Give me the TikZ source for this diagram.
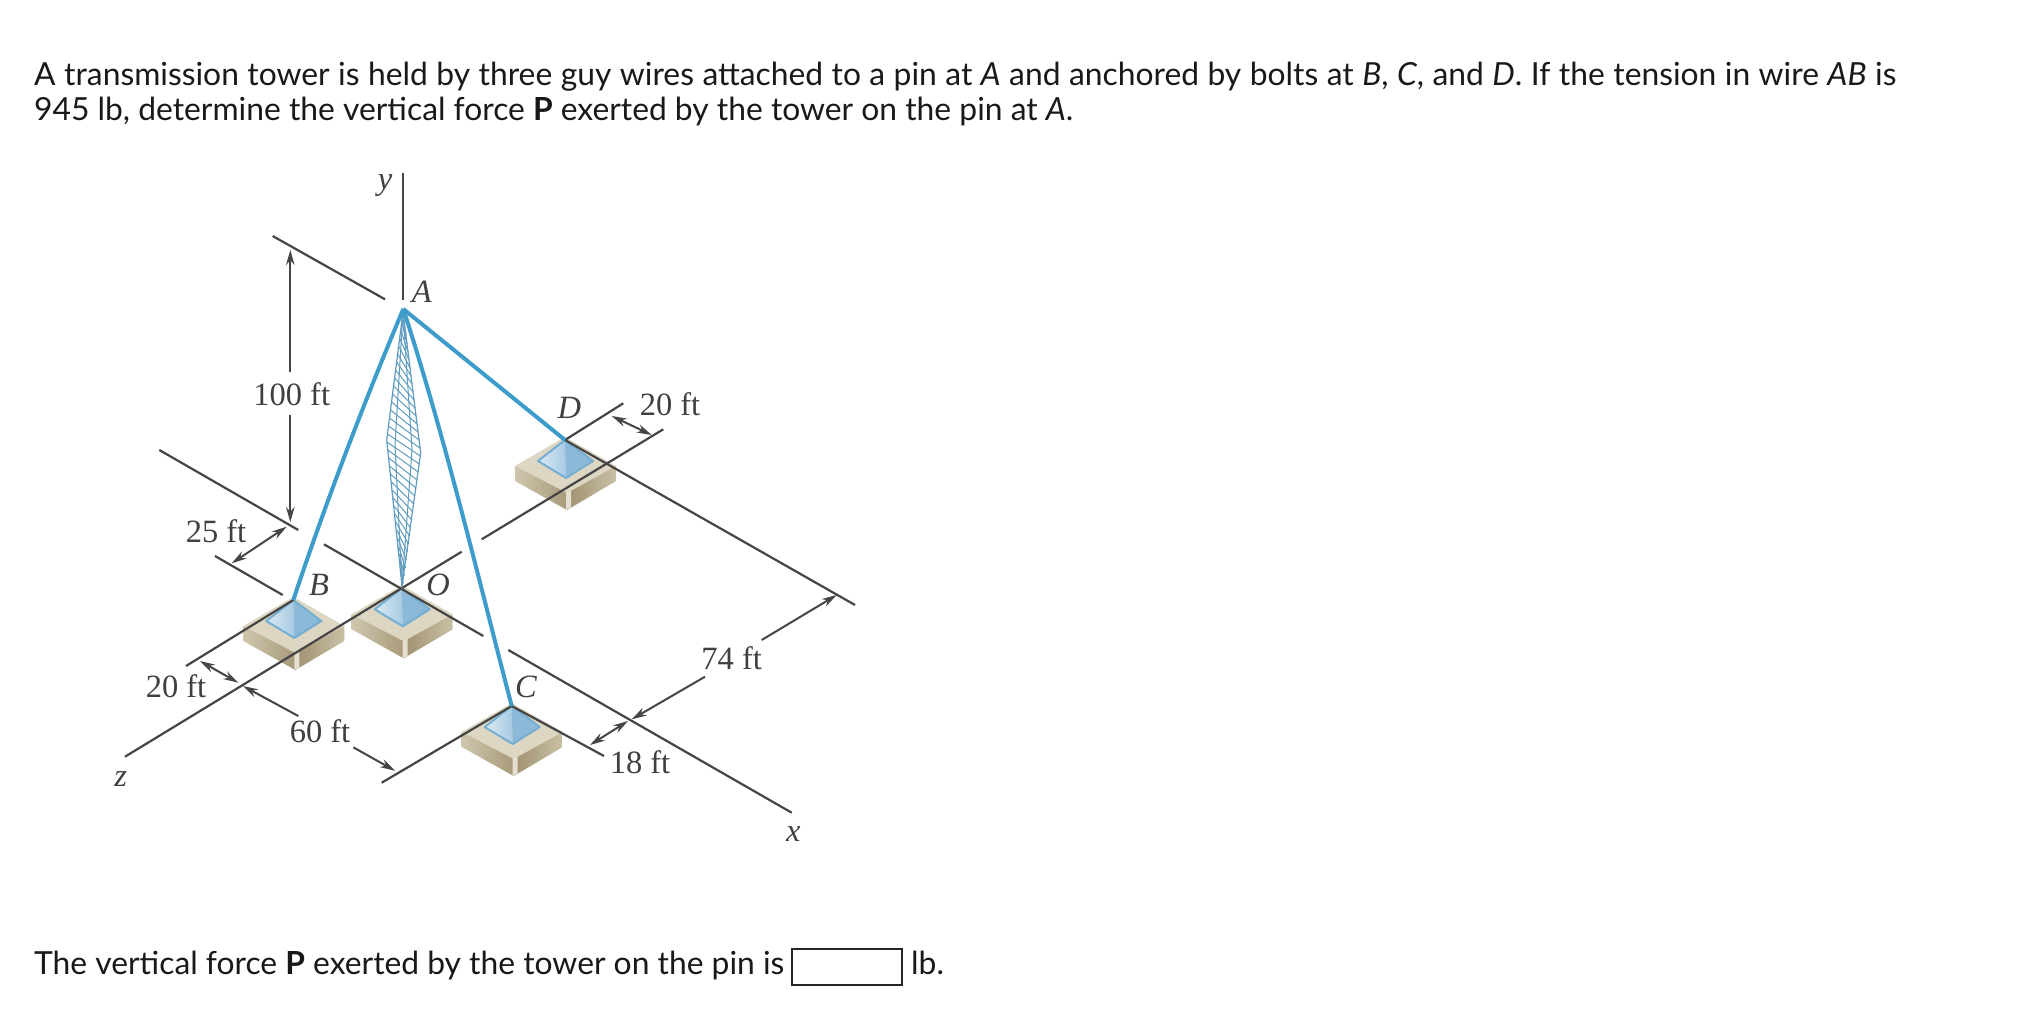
\documentclass[tikz,border=0pt]{standalone}
\usepackage{fontspec}
\setmainfont{Lato}
\newfontfamily\figfont{Liberation Serif}
\usetikzlibrary{arrows.meta}
\definecolor{dimc}{HTML}{454545}
\definecolor{wirec}{HTML}{3E9CCB}
\definecolor{towerc}{HTML}{5F9CBF}
\definecolor{tanTop}{HTML}{DDD6C3}
\definecolor{tanL}{HTML}{CFC6AD}
\definecolor{tanLb}{HTML}{A89A7A}
\definecolor{tanR}{HTML}{A09170}
\definecolor{tanRb}{HTML}{C9C0A5}
\definecolor{tanF}{HTML}{E4DFD0}
\definecolor{pyrL}{HTML}{DCEAF4}
\definecolor{pyrLb}{HTML}{A6CAE2}
\definecolor{pyrR}{HTML}{8DB9D8}
\definecolor{pyrE}{HTML}{74AFD3}
\tikzset{
  x=1pt,y=-1pt,
  declare function={
    lwd(\t)=(\t<440)*(\t-312)/128*16.3+(\t>=440)*(586-\t)/146*16.3;
    rwd(\t)=(\t<453)*(\t-312)/141*17.7+(\t>=453)*(586-\t)/133*17.7;
  },
  dimline/.style={draw=dimc,line width=2.2pt},
  dimarrow/.style={draw=dimc,line width=2pt,-{Stealth[length=15pt,width=8.5pt]}},
  dimboth/.style={draw=dimc,line width=2pt,{Stealth[length=15pt,width=8.5pt]}-{Stealth[length=15pt,width=8.5pt]}},
  wire/.style={draw=wirec,line width=4pt},
  figlabel/.style={font=\figfont\fontsize{32.5}{32.5}\selectfont,text=black!75,inner sep=0pt},
  figitalic/.style={font=\figfont\itshape\fontsize{32.5}{32.5}\selectfont,text=black!75,inner sep=0pt},
  qtext/.style={font=\fontsize{31.8}{32}\selectfont,text=black!90,anchor=base west,inner sep=0pt},
  blockpic/.pic={
    \fill[tanTop] (0,-3) -- (51,26) -- (2,53) -- (-50,26) -- cycle;
    \shade[left color=tanL,right color=tanLb] (-50,26) -- (2,53) -- (2,70) -- (-50,41) -- cycle;
    \shade[left color=tanR,right color=tanRb] (2,53) -- (51,26) -- (51,41) -- (2,70) -- cycle;
    \fill[tanF] (1,52.5) -- (6,50.5) -- (6,67.5) -- (1,70) -- cycle;
    \shade[left color=pyrL,right color=pyrLb] (0,0) -- (-27,21) -- (1,38) -- cycle;
    \fill[pyrR] (0,0) -- (1,38) -- (28,21) -- cycle;
    \draw[pyrE,line width=2pt,line join=round] (0,0) -- (-27,21) -- (1,38) -- (28,21) -- cycle;
  }
}
\begin{document}
\begin{tikzpicture}
\useasboundingbox (0,0) rectangle (2030,1036);
\fill[white] (0,0) rectangle (2030,1036);

% Text
\node[qtext] (line1) at (34,85) {\spaceskip=1.04\fontdimen2\font\relax A transmission tower is held by three guy wires attached to a pin at \textit{A} and anchored by bolts at \textit{B}, \textit{C}, and \textit{D}. If the tension in wire \textit{AB} is};
\node[qtext] (line2) at (34,120) {945 lb, determine the vertical force \textbf{P} exerted by the tower on the pin at \textit{A}.};
\node[qtext] (ans) at (34,974.5) {The vertical force \textbf{P} exerted by the tower on the pin is};
\node[draw=black!85,line width=2pt,minimum width=110pt,minimum height=36pt,inner sep=0pt] (box) at (847,967) {};
\node[qtext] (unit) at (911,974.5) {lb.};

% Anchor points
\coordinate (A) at (403.3,309);
\coordinate (O) at (401.7,588.3);
\coordinate (B) at (293.3,600);
\coordinate (C) at (511.7,706);
\coordinate (D) at (565,440);

% Blocks
\pic at (B) {blockpic};
\pic at (O) {blockpic};
\pic at (C) {blockpic};
\pic at (D) {blockpic};

% Axes and reference lines
\coordinate (yt) at (403.3,173); \coordinate (yb) at (403.3,300);
\draw[dimline] (yt) -- (yb);
\coordinate (ta) at (272.7,236); \coordinate (tb) at (385,299.3);
\draw[dimline] (ta) -- (tb);
\coordinate (la) at (159.3,450); \coordinate (lb) at (298.3,530);
\draw[dimline] (la) -- (lb);
\coordinate (ba) at (215,556); \coordinate (bb) at (282.7,595);
\draw[dimline] (ba) -- (bb);
\coordinate (xa) at (324,544.3); \coordinate (xb) at (483.3,636);
\draw[dimline] (xa) -- (xb);
\coordinate (xc) at (508.3,650); \coordinate (xd) at (791.7,812.7);
\draw[dimline] (xc) -- (xd);
\coordinate (za) at (461.7,551.7); \coordinate (zb) at (125,756.7);
\draw[dimline] (za) -- (zb);
\coordinate (zc) at (481.7,539.3); \coordinate (zd) at (663.3,429.3);
\draw[dimline] (zc) -- (zd);
\coordinate (du) at (623.3,403.3);
\draw[dimline] (D) -- (du);
\coordinate (de) at (855,605);
\draw[dimline] (D) -- (de);
\coordinate (ce) at (604,756);
\draw[dimline] (C) -- (ce);
\coordinate (cz) at (381.7,782.7);
\draw[dimline] (C) -- (cz);
\coordinate (bz) at (186,666);
\draw[dimline] (B) -- (bz);

% Tower lattice
\begin{scope}[draw=towerc,line width=1pt]
  \draw[line width=1.2pt] (403,312) -- (386.7,440) -- (402,586) -- (420.7,453) -- cycle;
  \draw (403,312) -- (395,445) -- (402,586) -- (412,450) -- cycle;
  \foreach \i in {0,...,31}{
    \pgfmathsetmacro{\ya}{314+\i*8}
    \pgfmathsetmacro{\yb}{\ya+22}
    \pgfmathsetmacro{\la}{lwd(\ya)}
    \pgfmathsetmacro{\rb}{rwd(\yb)}
    \draw (403-\la,\ya) -- (403+\rb,\yb);
  }
\end{scope}

% Wires
\draw[wire] (A) .. controls (363,405) and (326,502) .. (B);
\draw[wire] (A) .. controls (446,441) and (477,573) .. (C);
\draw[wire] (A) -- (D);

% Dimensions
\coordinate (d1a) at (290.3,371.7); \coordinate (d1b) at (290.3,250);
\draw[dimarrow] (d1a) -- (d1b);
\coordinate (d1c) at (290.3,415); \coordinate (d1d) at (290.3,522);
\draw[dimarrow] (d1c) -- (d1d);
\coordinate (d2a) at (231.7,563.3); \coordinate (d2b) at (286.7,526.7);
\draw[dimboth] (d2a) -- (d2b);
\coordinate (d3a) at (200,661); \coordinate (d3b) at (238.3,682.7);
\draw[dimboth] (d3a) -- (d3b);
\coordinate (d4a) at (298.3,716); \coordinate (d4b) at (243,686);
\draw[dimarrow] (d4a) -- (d4b);
\coordinate (d5a) at (353.3,747.3); \coordinate (d5b) at (395,770.7);
\draw[dimarrow] (d5a) -- (d5b);
\coordinate (d6a) at (590,745); \coordinate (d6b) at (628,721);
\draw[dimboth] (d6a) -- (d6b);
\coordinate (d7a) at (705,676.7); \coordinate (d7b) at (631.7,719.3);
\draw[dimarrow] (d7a) -- (d7b);
\coordinate (d8a) at (761.7,640); \coordinate (d8b) at (836.7,595);
\draw[dimarrow] (d8a) -- (d8b);
\coordinate (d9a) at (611.7,416); \coordinate (d9b) at (651.7,435);
\draw[dimboth] (d9a) -- (d9b);

% Labels
\node[figitalic] (ly) at (385,186) {y};
\node[figitalic] (lA) at (421.7,292) {A};
\node[figitalic] (lB) at (319,585) {B};
\node[figitalic] (lO) at (438,585) {O};
\node[figitalic] (lC) at (526,687) {C};
\node[figitalic] (lD) at (569.3,408) {D};
\node[figitalic] (lx) at (793.3,834) {x};
\node[figitalic] (lz) at (120.7,779) {z};
\node[figlabel] (l100) at (291.7,394) {100 ft};
\node[figlabel] (l25) at (216,531) {25 ft};
\node[figlabel] (l20a) at (176,686) {20 ft};
\node[figlabel] (l60) at (320,731) {60 ft};
\node[figlabel] (l18) at (640,762) {18 ft};
\node[figlabel] (l74) at (731.7,658.5) {74 ft};
\node[figlabel] (l20b) at (670,404) {20 ft};
\end{tikzpicture}
\end{document}
